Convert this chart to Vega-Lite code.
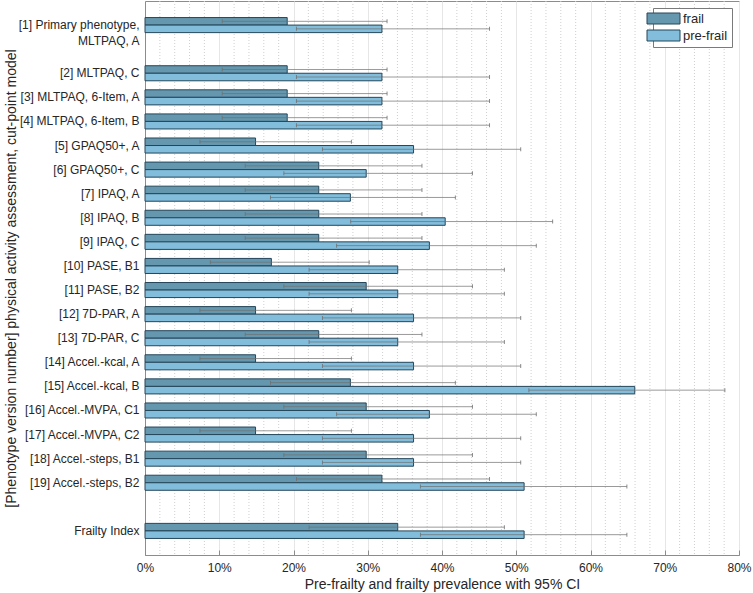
{
  "$schema": "https://vega.github.io/schema/vega-lite/v6.json",
  "width": 594,
  "height": 554,
  "autosize": {"type": "none"},
  "padding": {"left": 145, "top": 1, "right": 14, "bottom": 38},
  "config": {
    "font": "Liberation Sans",
    "view": {"stroke": "#8c8c8c", "strokeWidth": 1},
    "legend": {"cornerRadius": 0},
    "axisX": {"labelOverlap": false, "labelFlush": false}
  },
  "datasets": {
    "prev": [
      {"cat": "[1] Primary phenotype, MLTPAQ, A", "group": "frail", "value": 19.15, "lo": 10.4, "hi": 32.6},
      {"cat": "[1] Primary phenotype, MLTPAQ, A", "group": "pre-frail", "value": 31.91, "lo": 20.4, "hi": 46.4},
      {"cat": "[2] MLTPAQ, C", "group": "frail", "value": 19.15, "lo": 10.4, "hi": 32.6},
      {"cat": "[2] MLTPAQ, C", "group": "pre-frail", "value": 31.91, "lo": 20.4, "hi": 46.4},
      {"cat": "[3] MLTPAQ, 6-Item, A", "group": "frail", "value": 19.15, "lo": 10.4, "hi": 32.6},
      {"cat": "[3] MLTPAQ, 6-Item, A", "group": "pre-frail", "value": 31.91, "lo": 20.4, "hi": 46.4},
      {"cat": "[4] MLTPAQ, 6-Item, B", "group": "frail", "value": 19.15, "lo": 10.4, "hi": 32.6},
      {"cat": "[4] MLTPAQ, 6-Item, B", "group": "pre-frail", "value": 31.91, "lo": 20.4, "hi": 46.4},
      {"cat": "[5] GPAQ50+, A", "group": "frail", "value": 14.89, "lo": 7.4, "hi": 27.8},
      {"cat": "[5] GPAQ50+, A", "group": "pre-frail", "value": 36.17, "lo": 23.9, "hi": 50.6},
      {"cat": "[6] GPAQ50+, C", "group": "frail", "value": 23.4, "lo": 13.5, "hi": 37.3},
      {"cat": "[6] GPAQ50+, C", "group": "pre-frail", "value": 29.79, "lo": 18.7, "hi": 44.1},
      {"cat": "[7] IPAQ, A", "group": "frail", "value": 23.4, "lo": 13.5, "hi": 37.3},
      {"cat": "[7] IPAQ, A", "group": "pre-frail", "value": 27.66, "lo": 16.9, "hi": 41.8},
      {"cat": "[8] IPAQ, B", "group": "frail", "value": 23.4, "lo": 13.5, "hi": 37.3},
      {"cat": "[8] IPAQ, B", "group": "pre-frail", "value": 40.43, "lo": 27.7, "hi": 54.9},
      {"cat": "[9] IPAQ, C", "group": "frail", "value": 23.4, "lo": 13.5, "hi": 37.3},
      {"cat": "[9] IPAQ, C", "group": "pre-frail", "value": 38.3, "lo": 25.8, "hi": 52.7},
      {"cat": "[10] PASE, B1", "group": "frail", "value": 17.02, "lo": 8.8, "hi": 30.2},
      {"cat": "[10] PASE, B1", "group": "pre-frail", "value": 34.04, "lo": 22.1, "hi": 48.4},
      {"cat": "[11] PASE, B2", "group": "frail", "value": 29.79, "lo": 18.7, "hi": 44.1},
      {"cat": "[11] PASE, B2", "group": "pre-frail", "value": 34.04, "lo": 22.1, "hi": 48.4},
      {"cat": "[12] 7D-PAR, A", "group": "frail", "value": 14.89, "lo": 7.4, "hi": 27.8},
      {"cat": "[12] 7D-PAR, A", "group": "pre-frail", "value": 36.17, "lo": 23.9, "hi": 50.6},
      {"cat": "[13] 7D-PAR, C", "group": "frail", "value": 23.4, "lo": 13.5, "hi": 37.3},
      {"cat": "[13] 7D-PAR, C", "group": "pre-frail", "value": 34.04, "lo": 22.1, "hi": 48.4},
      {"cat": "[14] Accel.-kcal, A", "group": "frail", "value": 14.89, "lo": 7.4, "hi": 27.8},
      {"cat": "[14] Accel.-kcal, A", "group": "pre-frail", "value": 36.17, "lo": 23.9, "hi": 50.6},
      {"cat": "[15] Accel.-kcal, B", "group": "frail", "value": 27.66, "lo": 16.9, "hi": 41.8},
      {"cat": "[15] Accel.-kcal, B", "group": "pre-frail", "value": 65.96, "lo": 51.7, "hi": 78.1},
      {"cat": "[16] Accel.-MVPA, C1", "group": "frail", "value": 29.79, "lo": 18.7, "hi": 44.1},
      {"cat": "[16] Accel.-MVPA, C1", "group": "pre-frail", "value": 38.3, "lo": 25.8, "hi": 52.7},
      {"cat": "[17] Accel.-MVPA, C2", "group": "frail", "value": 14.89, "lo": 7.4, "hi": 27.8},
      {"cat": "[17] Accel.-MVPA, C2", "group": "pre-frail", "value": 36.17, "lo": 23.9, "hi": 50.6},
      {"cat": "[18] Accel.-steps, B1", "group": "frail", "value": 29.79, "lo": 18.7, "hi": 44.1},
      {"cat": "[18] Accel.-steps, B1", "group": "pre-frail", "value": 36.17, "lo": 23.9, "hi": 50.6},
      {"cat": "[19] Accel.-steps, B2", "group": "frail", "value": 31.91, "lo": 20.4, "hi": 46.4},
      {"cat": "[19] Accel.-steps, B2", "group": "pre-frail", "value": 51.06, "lo": 37.1, "hi": 64.9},
      {"cat": "Frailty Index", "group": "frail", "value": 34.04, "lo": 22.1, "hi": 48.4},
      {"cat": "Frailty Index", "group": "pre-frail", "value": 51.06, "lo": 37.1, "hi": 64.9}
    ],
    "minor": [
      {"g": 2}, {"g": 4}, {"g": 6}, {"g": 8},
      {"g": 12}, {"g": 14}, {"g": 16}, {"g": 18},
      {"g": 22}, {"g": 24}, {"g": 26}, {"g": 28},
      {"g": 32}, {"g": 34}, {"g": 36}, {"g": 38},
      {"g": 42}, {"g": 44}, {"g": 46}, {"g": 48},
      {"g": 52}, {"g": 54}, {"g": 56}, {"g": 58},
      {"g": 62}, {"g": 64}, {"g": 66}, {"g": 68},
      {"g": 72}, {"g": 74}, {"g": 76}, {"g": 78}
    ]
  },
  "layer": [
    {
      "data": {"name": "minor"},
      "mark": {"type": "rule", "color": "#cfcfcf", "strokeDash": [1, 2], "strokeWidth": 1},
      "encoding": {
        "x": {"field": "g", "type": "quantitative"}
      }
    },
    {
      "data": {"name": "prev"},
      "layer": [
        {
          "mark": {"type": "bar", "stroke": "#24465a", "strokeWidth": 1, "opacity": 1},
          "encoding": {
            "y": {
              "field": "cat",
              "type": "nominal",
              "title": "[Phenotype version number] physical activity assessment, cut-point model",
              "scale": {
                "domain": ["[1] Primary phenotype, MLTPAQ, A", " ", "[2] MLTPAQ, C", "[3] MLTPAQ, 6-Item, A", "[4] MLTPAQ, 6-Item, B", "[5] GPAQ50+, A", "[6] GPAQ50+, C", "[7] IPAQ, A", "[8] IPAQ, B", "[9] IPAQ, C", "[10] PASE, B1", "[11] PASE, B2", "[12] 7D-PAR, A", "[13] 7D-PAR, C", "[14] Accel.-kcal, A", "[15] Accel.-kcal, B", "[16] Accel.-MVPA, C1", "[17] Accel.-MVPA, C2", "[18] Accel.-steps, B1", "[19] Accel.-steps, B2", "  ", "Frailty Index"],
                "paddingInner": 0,
                "paddingOuter": 0.5
              },
              "axis": {
                "labelExpr": "datum.value == '[1] Primary phenotype, MLTPAQ, A' ? ['[1] Primary phenotype,', 'MLTPAQ, A'] : datum.value",
                "ticks": false,
                "grid": false,
                "domainColor": "#8c8c8c",
                "labelFontSize": 12,
                "labelColor": "#262626",
                "labelPadding": 6,
                "labelLineHeight": 16,
                "labelLimit": 0,
                "titleFontSize": 14,
                "titleFontWeight": "normal",
                "titleColor": "#262626",
                "titlePadding": 0
              }
            },
            "yOffset": {
              "field": "group",
              "type": "nominal",
              "scale": {"domain": ["frail", "pre-frail"], "paddingInner": 0, "paddingOuter": 0.6}
            },
            "x": {
              "field": "value",
              "type": "quantitative",
              "title": "Pre-frailty and frailty prevalence with 95% CI",
              "scale": {"domain": [0, 80], "nice": false, "zero": true},
              "axis": {
                "values": [0, 10, 20, 30, 40, 50, 60, 70, 80],
                "labelExpr": "datum.value + '%'",
                "labelFlush": false,
                "labelOverlap": false,
                "grid": true,
                "gridColor": "#e6e6e6",
                "tickSize": -5,
                "tickColor": "#8c8c8c",
                "domainColor": "#8c8c8c",
                "labelFontSize": 12,
                "labelColor": "#262626",
                "labelPadding": 12,
                "titleFontSize": 14,
                "titleFontWeight": "normal",
                "titleColor": "#262626",
                "titlePadding": 4
              }
            },
            "color": {
              "field": "group",
              "type": "nominal",
              "scale": {"domain": ["frail", "pre-frail"], "range": ["#6598ae", "#82bddb"]},
              "legend": {
                "orient": "top-right",
                "offset": 7,
                "title": null,
                "fillColor": "white",
                "strokeColor": "#7a7a7a",
                "padding": 4,
                "symbolType": "M-3,-1H3V1H-3Z",
                "symbolSize": 121,
                "symbolStrokeColor": "#24465a",
                "symbolStrokeWidth": 1,
                "symbolOpacity": 1,
                "labelFontSize": 13,
                "labelColor": "#262626",
                "labelOffset": 13,
                "rowPadding": 2
              }
            }
          }
        },
        {
          "mark": {"type": "rule", "color": "#6f6f6f", "opacity": 0.7, "strokeWidth": 1},
          "encoding": {
            "y": {"field": "cat", "type": "nominal"},
            "yOffset": {"field": "group", "type": "nominal"},
            "x": {"field": "lo", "type": "quantitative"},
            "x2": {"field": "hi"}
          }
        },
        {
          "mark": {"type": "tick", "color": "#6f6f6f", "opacity": 0.8, "size": 4, "thickness": 1},
          "encoding": {
            "y": {"field": "cat", "type": "nominal"},
            "yOffset": {"field": "group", "type": "nominal"},
            "x": {"field": "lo", "type": "quantitative"}
          }
        },
        {
          "mark": {"type": "tick", "color": "#6f6f6f", "opacity": 0.8, "size": 4, "thickness": 1},
          "encoding": {
            "y": {"field": "cat", "type": "nominal"},
            "yOffset": {"field": "group", "type": "nominal"},
            "x": {"field": "hi", "type": "quantitative"}
          }
        }
      ]
    }
  ]
}
